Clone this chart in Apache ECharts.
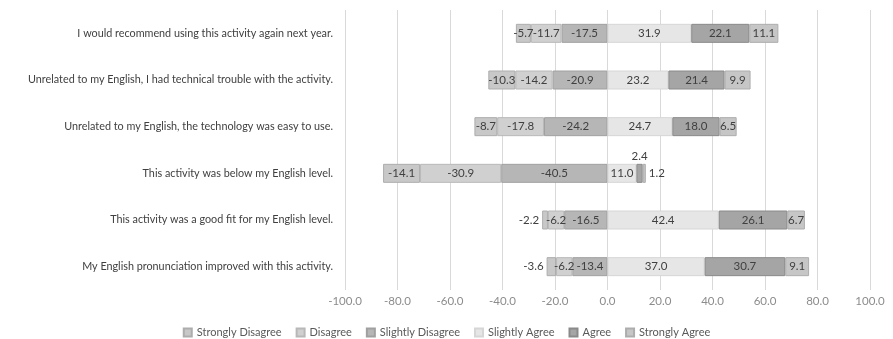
<!DOCTYPE html>
<html>
<head>
<meta charset="utf-8">
<script src="https://cdn.jsdelivr.net/npm/echarts@6/dist/echarts.min.js"></script>
<style>
  html, body { margin: 0; padding: 0; background: #ffffff; }
  #chart { width: 893px; height: 339px; }
</style>
</head>
<body>
<div id="chart"></div>
<script>
// Survey statements (top to bottom)
const categories = [
  "I would recommend using this activity again next year.",
  "Unrelated to my English, I had technical trouble with the activity.",
  "Unrelated to my English, the technology was easy to use.",
  "This activity was below my English level.",
  "This activity was a good fit for my English level.",
  "My English pronunciation improved with this activity."
];

// Percentages per response (disagreement shown as negative)
const stronglyDisagree = [-5.7, -10.3, -8.7, -14.1, -2.2, -3.6];
const disagree         = [-11.7, -14.2, -17.8, -30.9, -6.2, -6.2];
const slightlyDisagree = [-17.5, -20.9, -24.2, -40.5, -16.5, -13.4];
const slightlyAgree    = [31.9, 23.2, 24.7, 11.0, 42.4, 37.0];
const agree            = [22.1, 21.4, 18.0, 2.4, 26.1, 30.7];
const stronglyAgree    = [11.1, 9.9, 6.5, 1.2, 6.7, 9.1];

const legendOrder = ["Strongly Disagree", "Disagree", "Slightly Disagree",
                     "Slightly Agree", "Agree", "Strongly Agree"];
const xTicks = { min: -100, max: 100, step: 20 };

const FONT = "Lato";
const TEXT = "#404040";

// Small segments whose labels sit outside the bar: [series, row, position]
const outsideLabels = [
  ["Agree", 3, "top"],
  ["Strongly Agree", 3, "right"],
  ["Strongly Disagree", 4, "left"],
  ["Strongly Disagree", 5, "left"]
];

function buildData(name, values) {
  return values.map((v, i) => {
    const o = outsideLabels.find(e => e[0] === name && e[1] === i);
    if (!o) return v;
    return { value: v, label: { position: o[2], distance: o[2] === "top" ? 2 : 3 } };
  });
}

function seriesOf(name, values, fill, border) {
  return {
    name: name,
    type: "bar",
    stack: "total",
    barWidth: 19,
    data: buildData(name, values),
    itemStyle: { color: fill, borderColor: border, borderWidth: 1 },
    label: {
      show: true,
      position: "inside",
      color: TEXT,
      fontFamily: FONT,
      fontSize: 11.5,
      formatter: p => Number(p.value).toFixed(1)
    },
    emphasis: { disabled: true }
  };
}

const chart = echarts.init(document.getElementById("chart"), null, { renderer: "canvas" });

chart.setOption({
  animation: false,
  backgroundColor: "#ffffff",
  grid: { left: 345, right: 23, top: 10, bottom: 49, containLabel: false },
  legend: {
    data: legendOrder,
    bottom: 1,
    left: "center",
    padding: 0,
    itemWidth: 8,
    itemHeight: 8,
    itemGap: 14,
    textStyle: { color: "#595959", fontFamily: FONT, fontSize: 11 },
    icon: "rect"
  },
  xAxis: {
    type: "value",
    min: xTicks.min,
    max: xTicks.max,
    interval: xTicks.step,
    axisLine: { show: false },
    axisTick: { show: false },
    splitLine: { show: true, lineStyle: { color: "#d9d9d9", width: 1 } },
    axisLabel: {
      color: "#8c8c8c",
      fontFamily: FONT,
      fontSize: 11.5,
      margin: 5,
      formatter: v => v.toFixed(1)
    }
  },
  yAxis: {
    type: "category",
    data: categories,
    inverse: true,
    axisLine: { show: false },
    axisTick: { show: false },
    axisLabel: { color: TEXT, fontFamily: FONT, fontSize: 10.8, margin: 12 }
  },
  series: [
    seriesOf("Slightly Disagree", slightlyDisagree, "#b6b6b6", "#a0a0a0"),
    seriesOf("Disagree", disagree, "#d0d0d0", "#b8b8b8"),
    seriesOf("Strongly Disagree", stronglyDisagree, "#c8c8c8", "#adadad"),
    seriesOf("Slightly Agree", slightlyAgree, "#e6e6e6", "#d6d6d6"),
    seriesOf("Agree", agree, "#a5a5a5", "#8a8a8a"),
    seriesOf("Strongly Agree", stronglyAgree, "#c6c6c6", "#adadad")
  ]
});
</script>
</body>
</html>
